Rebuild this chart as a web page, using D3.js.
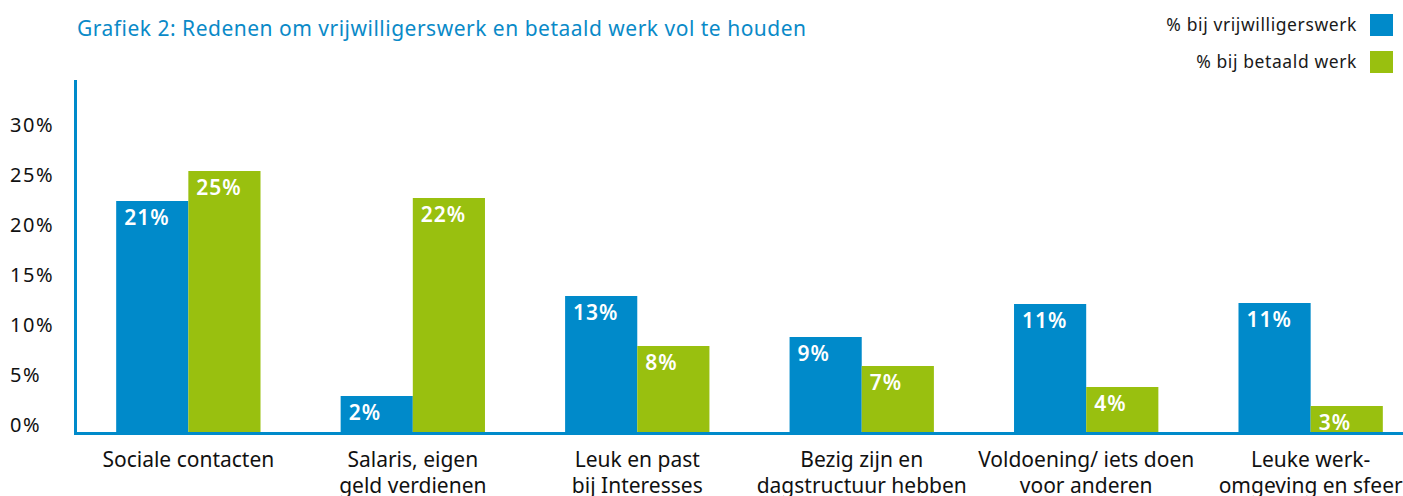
<!DOCTYPE html>
<html>
<head>
<meta charset="utf-8">
<script src="https://cdn.jsdelivr.net/npm/d3@7"></script>
<style>
  body { margin: 0; background: #fff; }
  svg { display: block; font-family: "Noto Sans", sans-serif; }
</style>
</head>
<body>
<svg></svg>
<script>
const w = 1403
const h = 496

// data
const categories = [
  ['Sociale contacten'],
  ['Salaris, eigen', 'geld verdienen'],
  ['Leuk en past', 'bij Interesses'],
  ['Bezig zijn en', 'dagstructuur hebben'],
  ['Voldoening/ iets doen', 'voor anderen'],
  ['Leuke werk-', 'omgeving en sfeer']
]
const seriesNames = ['% bij vrijwilligerswerk', '% bij betaald werk']
// bar heights as drawn in the chart (%)
const vrijwilligerswerk = [23.1, 3.6, 13.6, 9.5, 12.8, 12.9]
const betaaldWerk = [26.1, 23.4, 8.6, 6.6, 4.5, 2.6]
// labels printed on the bars
const vrijwilligLabels = ['21%', '2%', '13%', '9%', '11%', '11%']
const betaaldLabels = ['25%', '22%', '8%', '7%', '4%', '3%']
const yTicks = [0, 5, 10, 15, 20, 25, 30]

const blue = '#008aca'
const green = '#99c00f'
const colors = [blue, green]

const svg = d3.select('svg')
  .attr('width', w)
  .attr('height', h)

const margin = {top: 80, left: 76}
const baseY = 432
const step = 224.5

const xScale = d3.scaleBand()
  .domain(d3.range(categories.length))
  .range([margin.left, margin.left + step * categories.length])
  .paddingInner(0.357)
  .paddingOuter(0.179)

const xSub = d3.scaleBand()
  .domain([0, 1])
  .range([0, xScale.bandwidth()])

const yScale = d3.scaleLinear()
  .domain([0, 30])
  .range([baseY, baseY - 300])

// title
svg.append('text')
  .attr('x', 77)
  .attr('y', 36)
  .attr('fill', '#0a8ac8')
  .attr('font-size', 21)
  .attr('letter-spacing', 0.5)
  .text('Grafiek 2: Redenen om vrijwilligerswerk en betaald werk vol te houden')

// legend
seriesNames.forEach((name, i) => {
  const base = 31 + i * 37
  svg.append('text')
    .attr('x', 1357)
    .attr('y', base)
    .attr('text-anchor', 'end')
    .attr('font-size', 17.5)
    .attr('letter-spacing', 0.6)
    .attr('fill', '#1a1a1a')
    .text(name)
  svg.append('rect')
    .attr('x', 1370)
    .attr('y', base - 17)
    .attr('width', 23)
    .attr('height', 22)
    .attr('fill', colors[i])
})

// y tick labels
svg.append('g').selectAll('text').data(yTicks)
  .enter().append('text')
  .attr('x', 10)
  .attr('y', d => yScale(d))
  .attr('font-size', 20)
  .attr('letter-spacing', 1.5)
  .attr('fill', '#111')
  .text(d => d + '%')

// bars
const series = [
  {values: vrijwilligerswerk, labels: vrijwilligLabels},
  {values: betaaldWerk, labels: betaaldLabels}
]

series.forEach((s, si) => {
  const g = svg.append('g')
  g.selectAll('rect').data(s.values)
    .enter().append('rect')
    .attr('x', (d, i) => xScale(i) + xSub(si))
    .attr('y', d => yScale(d))
    .attr('width', xSub.bandwidth())
    .attr('height', d => baseY - yScale(d))
    .attr('fill', colors[si])
  g.selectAll('text').data(s.values)
    .enter().append('text')
    .attr('x', (d, i) => xScale(i) + xSub(si) + 8)
    .attr('y', d => yScale(d) + 24)
    .attr('fill', '#fff')
    .attr('font-size', 21)
    .attr('font-weight', 600)
    .attr('letter-spacing', 1)
    .text((d, i) => s.labels[i])
})

// axes lines
svg.append('line')
  .attr('x1', 75.5).attr('x2', 75.5)
  .attr('y1', margin.top).attr('y2', 435)
  .attr('stroke', blue)
  .attr('stroke-width', 3)
svg.append('line')
  .attr('x1', 74).attr('x2', w)
  .attr('y1', 433.5).attr('y2', 433.5)
  .attr('stroke', blue)
  .attr('stroke-width', 3)

// category labels
const catG = svg.append('g').selectAll('text').data(categories)
  .enter().append('text')
  .attr('text-anchor', 'middle')
  .attr('font-size', 21)
  .attr('fill', '#111')
  .attr('transform', (d, i) => `translate(${xScale(i) + xScale.bandwidth() / 2}, 467)`)

catG.selectAll('tspan').data(d => d)
  .enter().append('tspan')
  .attr('x', 0)
  .attr('dy', (d, i) => i === 0 ? 0 : 26)
  .text(d => d)
</script>
</body>
</html>
